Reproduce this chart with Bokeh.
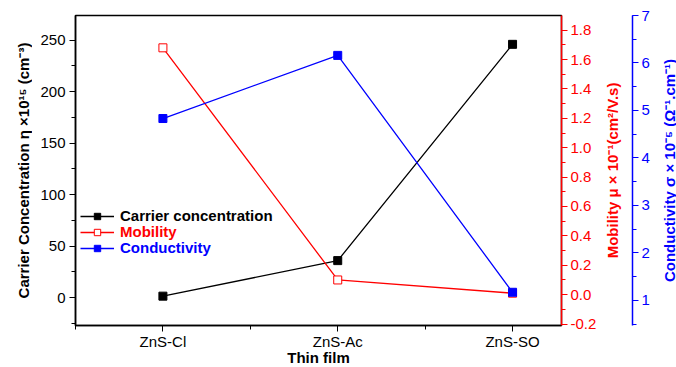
from bokeh.plotting import figure
from bokeh.layouts import row
from bokeh.models import (Range1d, LinearAxis, FixedTicker, SingleIntervalTicker,
                          PrintfTickFormatter, Legend, LegendItem)
from bokeh.embed import file_html
from bokeh.resources import INLINE

categories = ["ZnS-Cl", "ZnS-Ac", "ZnS-SO"]
carrier = [1.5, 36, 246]
mobility = [1.68, 0.10, 0.01]
conductivity = [4.83, 6.16, 1.17]

left_title = "Carrier Concentration η ×10¹⁵ (cm⁻³)"
red_title = "Mobility μ × 10⁻¹(cm²/V.s)"
blue_title = "Conductivity σ × 10⁻⁵ (Ω⁻¹.cm⁻¹)"
x_title = "Thin film"

xs = list(range(len(categories)))
FONT = "Liberation Sans"
CAR_RANGE = (-27, 274)
MOB_RANGE = (-0.21, 1.9)
CON_RANGE = (0.47, 7.0)
TOP, FRAME_H, BOTTOM = 15, 310, 42


def style_axis(ax, color):
    ax.axis_line_color = color
    ax.axis_line_width = 1.5
    ax.major_tick_line_color = color
    ax.minor_tick_line_color = color
    ax.major_tick_in = 0
    ax.major_tick_out = 6
    ax.minor_tick_in = 0
    ax.minor_tick_out = 4
    ax.major_label_text_color = color
    ax.major_label_text_font = FONT
    ax.major_label_text_font_size = "15px"
    ax.axis_label_text_color = color
    ax.axis_label_text_font = FONT
    ax.axis_label_text_font_style = "bold"
    ax.axis_label_text_font_size = "15px"


def clean(f):
    f.xgrid.visible = False
    f.ygrid.visible = False
    f.background_fill_color = "white"
    f.border_fill_color = "white"


def title_strip(text, color, border_left, standoff, top, bottom):
    f = figure(output_backend="svg", toolbar_location=None, x_axis_location=None,
               y_axis_location=None, x_range=Range1d(0, 1), y_range=Range1d(0, 1),
               frame_width=1, frame_height=FRAME_H, min_border_left=border_left,
               min_border_right=0, min_border_top=top, min_border_bottom=bottom)
    clean(f)
    f.outline_line_color = None
    ax = LinearAxis(ticker=FixedTicker(ticks=[]), axis_label=text)
    style_axis(ax, color)
    ax.axis_line_color = None
    ax.major_tick_out = 0
    ax.minor_tick_out = 0
    ax.axis_label_standoff = standoff
    f.add_layout(ax, "left")
    return f


# ---------- left title strip (title centred a little above the frame centre) ----------
fa = title_strip(left_title, "black", 31, 0, TOP - 13, BOTTOM + 13)

# ---------- main figure ----------
fig = figure(output_backend="svg", toolbar_location=None,
             x_range=Range1d(-0.5, 2.28), y_range=Range1d(*CAR_RANGE),
             frame_width=486, frame_height=FRAME_H,
             min_border_left=43, min_border_right=38, min_border_top=TOP,
             min_border_bottom=BOTTOM)
fig.extra_y_ranges = {"mob": Range1d(*MOB_RANGE), "cond": Range1d(*CON_RANGE)}
clean(fig)
fig.outline_line_color = "black"
fig.outline_line_width = 1.5

xa = fig.xaxis[0]
xa.ticker = FixedTicker(ticks=xs, minor_ticks=[-0.5, 0.5, 1.5])
xa.major_label_overrides = {i: c for i, c in enumerate(categories)}
xa.axis_label = x_title
style_axis(xa, "black")
xa.axis_label_standoff = -4
xa.major_label_standoff = 1

ya = fig.yaxis[0]
ya.ticker = SingleIntervalTicker(interval=50, num_minor_ticks=2)
style_axis(ya, "black")
ya.major_label_standoff = 4

ra = LinearAxis(y_range_name="mob", ticker=SingleIntervalTicker(interval=0.2, num_minor_ticks=2),
                formatter=PrintfTickFormatter(format="%.1f"))
style_axis(ra, "red")
ra.major_label_standoff = 3
fig.add_layout(ra, "right")

l1 = fig.line(xs, carrier, line_color="black", line_width=1.3)
s1 = fig.scatter(xs, carrier, marker="square", size=8, fill_color="black", line_color="black")
l2 = fig.line(xs, mobility, line_color="red", line_width=1.3, y_range_name="mob")
s2 = fig.scatter(xs, mobility, marker="square", size=8, fill_color="white", line_color="red",
                 y_range_name="mob")
l3 = fig.line(xs, conductivity, line_color="blue", line_width=1.3, y_range_name="cond")
s3 = fig.scatter(xs, conductivity, marker="square", size=8, fill_color="blue", line_color="blue",
                 y_range_name="cond")

items = [("Carrier concentration", [l1, s1], "black", 101),
         ("Mobility", [l2, s2], "red", 85),
         ("Conductivity", [l3, s3], "blue", 69)]
for label, rs, col, yoff in items:
    lg = Legend(items=[LegendItem(label=label, renderers=rs)], location=(5, yoff),
                border_line_color=None, background_fill_alpha=0, padding=0, margin=0,
                glyph_width=34, glyph_height=16, label_height=16, label_standoff=6,
                label_text_color=col, label_text_font=FONT, label_text_font_style="bold",
                label_text_font_size="15px")
    fig.add_layout(lg, "center")

# ---------- strip with red title (left) and blue axis (right) ----------
fb = figure(output_backend="svg", toolbar_location=None, x_axis_location=None,
            y_axis_location="right", x_range=Range1d(0, 1), y_range=Range1d(*CON_RANGE),
            frame_width=2, frame_height=FRAME_H, min_border_left=31, min_border_right=18,
            min_border_top=TOP, min_border_bottom=BOTTOM)
clean(fb)
fb.outline_line_color = None
bax = fb.yaxis[0]
bax.ticker = SingleIntervalTicker(interval=1, num_minor_ticks=2)
style_axis(bax, "blue")
bax.major_label_standoff = 3

rt = LinearAxis(ticker=FixedTicker(ticks=[]), axis_label=red_title)
style_axis(rt, "red")
rt.axis_line_color = None
rt.major_tick_out = 0
rt.minor_tick_out = 0
rt.axis_label_standoff = 10
fb.add_layout(rt, "left")

# ---------- strip with blue title ----------
fc = title_strip(blue_title, "blue", 25, 0, TOP, BOTTOM)

p = row(fa, fig, fb, fc, spacing=0)

open("out.html", "w").write(file_html(p, INLINE))
